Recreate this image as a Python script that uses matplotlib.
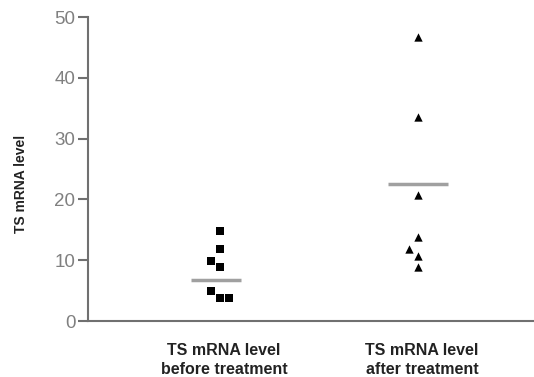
import matplotlib
matplotlib.use("Agg")
import matplotlib.pyplot as plt
import numpy as np

categories = ["TS mRNA level\nbefore treatment", "TS mRNA level\nafter treatment"]
before_values = [14.8, 11.8, 9.9, 8.8, 4.9, 3.8, 3.8]
before_jitter = [0, 0, -1, 0, -1, 0, 1]
after_values = [46.7, 33.6, 20.8, 13.8, 11.8, 10.7, 8.8]
after_jitter = [0, 0, 0, 0, -1, 0, 0]
mean_lines = [6.7, 22.6]
yticks = [0, 10, 20, 30, 40, 50]

fig = plt.figure(figsize=(5.34, 3.77), dpi=100)
ax = fig.add_axes([88/534, 56/377, 1 - 88/534, (321-17)/377])

jit = 0.047
xb = 1 + np.array(before_jitter) * jit
xa = 2 + np.array(after_jitter) * jit
ax.scatter(xb, before_values, marker="s", s=36, color="black", zorder=3, linewidths=0)
ax.scatter(xa, after_values, marker="^", s=36, color="black", zorder=3, linewidths=0)

half = [0.125, 0.15]
for i, m in enumerate(mean_lines):
    c = i + 1 - (0.02 if i == 0 else 0)
    ax.plot([c - half[i], c + half[i]], [m, m], color="#a0a0a0", lw=2.5, solid_capstyle="butt", zorder=2)

ax.set_xlim(0.333, 2.586)
ax.set_ylim(0, 50)
ax.set_yticks(yticks)
ax.set_xticks([1.02, 2.02])
ax.set_xticklabels(categories, fontsize=11.5, fontweight="bold", family="Liberation Sans", color="#222222", linespacing=1.3)
ax.tick_params(axis="x", length=0, pad=16)
ax.tick_params(axis="y", length=7, width=1.5, color="#707070", labelcolor="#808080", labelsize=13.5, pad=2)
for lab in ax.get_yticklabels():
    lab.set_family("Liberation Sans")

for s in ["top", "right"]:
    ax.spines[s].set_visible(False)
for s in ["left", "bottom"]:
    ax.spines[s].set_color("#707070")
    ax.spines[s].set_linewidth(1.5)

ax.set_ylabel("TS mRNA level", fontsize=10, fontweight="bold", family="Liberation Sans", color="#222222")
ax.yaxis.set_label_coords(-0.135, 0.45)

fig.savefig("out.png", dpi=100)
